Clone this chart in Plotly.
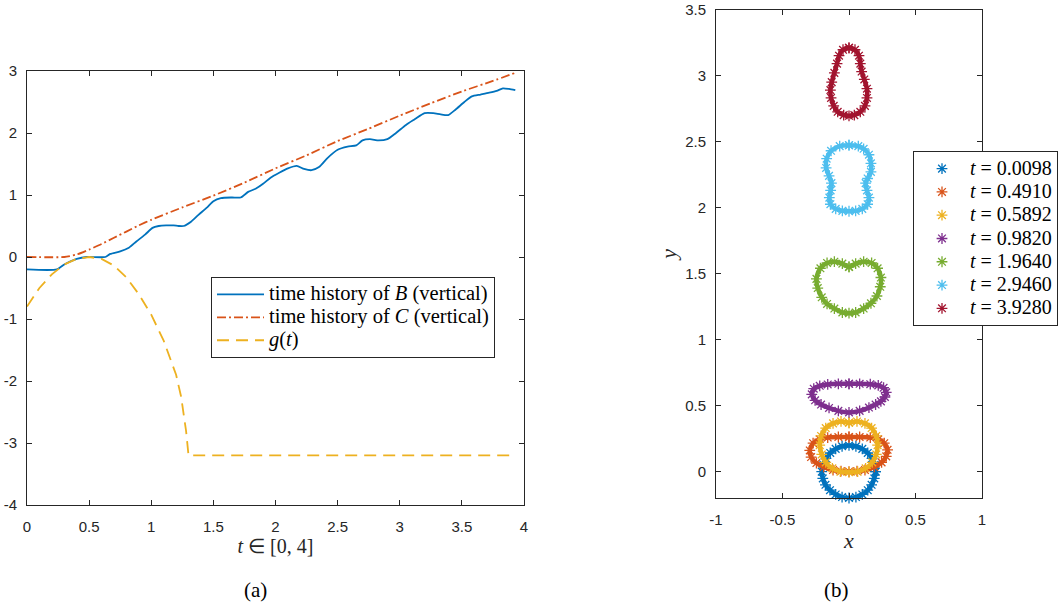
import plotly.graph_objects as go

# ---------------- panel (a) data ----------------
tB = [0, 0.24, 0.30, 0.35, 0.40, 0.48, 0.63, 0.67, 0.75, 0.82,
      0.88, 0.95, 1.01, 1.06, 1.12, 1.18, 1.22, 1.26, 1.32, 1.38,
      1.45, 1.50, 1.56, 1.65, 1.72, 1.78, 1.84, 1.90, 1.96, 2.03,
      2.10, 2.17, 2.23, 2.29, 2.35, 2.42, 2.50, 2.58, 2.65, 2.70,
      2.76, 2.83, 2.90, 2.97, 3.05, 3.12, 3.20, 3.27, 3.33, 3.39,
      3.45, 3.52, 3.58, 3.65, 3.72, 3.78, 3.83, 3.88, 3.93]
vB = [-0.2, -0.2, -0.12, -0.07, -0.03, 0, 0, 0.05, 0.09, 0.15,
      0.25, 0.36, 0.47, 0.5, 0.51, 0.51, 0.5, 0.5, 0.57, 0.68,
      0.8, 0.9, 0.95, 0.96, 0.96, 1.05, 1.1, 1.18, 1.28, 1.36,
      1.43, 1.47, 1.42, 1.40, 1.45, 1.6, 1.73, 1.78, 1.8, 1.88,
      1.9, 1.88, 1.9, 2.0, 2.13, 2.22, 2.32, 2.32, 2.3, 2.29,
      2.38, 2.5, 2.59, 2.62, 2.65, 2.68, 2.72, 2.71, 2.69]

tC = [0, 0.3, 0.4, 0.5, 0.6, 0.7, 0.8, 0.9, 1.0, 1.25, 1.5, 1.75, 2.0,
      2.25, 2.5, 2.75, 3.0, 3.25, 3.5, 3.75, 3.93]
vC = [0, 0, 0.04, 0.12, 0.21, 0.31, 0.41, 0.51, 0.6, 0.8, 0.99, 1.2, 1.43,
      1.64, 1.87, 2.07, 2.28, 2.48, 2.67, 2.84, 2.97]

tG = [0, 0.1, 0.2, 0.3, 0.4, 0.5, 0.6, 0.7, 0.8, 0.9, 1.0, 1.1, 1.2,
      1.24, 1.28, 1.30, 3.93]
vG = [-0.8, -0.5, -0.28, -0.12, -0.03, 0, -0.03, -0.14, -0.33, -0.6, -0.93,
      -1.35, -1.9, -2.25, -2.8, -3.2, -3.2]

xa_ticks = [0, 0.5, 1, 1.5, 2, 2.5, 3, 3.5, 4]
xa_text = ["0", "0.5", "1", "1.5", "2", "2.5", "3", "3.5", "4"]
ya_ticks = [-4, -3, -2, -1, 0, 1, 2, 3]
ya_text = ["-4", "-3", "-2", "-1", "0", "1", "2", "3"]

# ---------------- panel (b) data (contour points) ----------------
times = ["0.0098", "0.4910", "0.5892", "0.9820", "1.9640", "2.9460", "3.9280"]
colors = ["#0072BD", "#D95319", "#EDB120", "#7E2F8E", "#77AC30", "#4DBEEE", "#A2142F"]

x1 = [0.2, 0.193, 0.173, 0.141, 0.1, 0.052, 0, -0.052, -0.1, -0.141, -0.173, -0.193,
      -0.205, -0.197, -0.177, -0.143, -0.1, -0.052, 0, 0.052, 0.1, 0.141, 0.17, 0.19, 0.2]
y1 = [0, 0.052, 0.1, 0.141, 0.172, 0.192, 0.198, 0.192, 0.172, 0.141, 0.1, 0.052,
      0, -0.052, -0.1, -0.141, -0.173, -0.193, -0.2, -0.193, -0.173, -0.141, -0.1, -0.052, 0]

x2 = [0, 0.08, 0.16, 0.22, 0.265, 0.29, 0.28, 0.245, 0.19, 0.12, 0.06, 0,
      -0.06, -0.12, -0.19, -0.245, -0.285, -0.295, -0.27, -0.22, -0.16, -0.08, 0]
y2 = [0.262, 0.262, 0.258, 0.245, 0.215, 0.165, 0.115, 0.07, 0.035, 0.012, 0.003, 0.0,
      0.003, 0.012, 0.035, 0.065, 0.11, 0.16, 0.215, 0.245, 0.258, 0.262, 0.262]

x3 = [0, 0.06, 0.12, 0.17, 0.205, 0.215, 0.205, 0.175, 0.125, 0.065, 0,
      -0.065, -0.125, -0.175, -0.205, -0.22, -0.21, -0.175, -0.12, -0.06, 0]
y3 = [0.37, 0.38, 0.365, 0.33, 0.27, 0.2, 0.13, 0.07, 0.025, 0.0, -0.005,
      0.0, 0.025, 0.07, 0.13, 0.2, 0.27, 0.33, 0.365, 0.38, 0.37]

x4 = [0, 0.08, 0.16, 0.22, 0.26, 0.28, 0.27, 0.24, 0.2, 0.15, 0.08, 0,
      -0.08, -0.15, -0.21, -0.255, -0.28, -0.265, -0.22, -0.16, -0.08, 0]
y4 = [0.665, 0.665, 0.662, 0.653, 0.635, 0.6, 0.565, 0.532, 0.508, 0.485, 0.46, 0.448,
      0.46, 0.482, 0.508, 0.54, 0.585, 0.628, 0.65, 0.66, 0.665, 0.665]

x5 = [0, 0.05, 0.11, 0.17, 0.215, 0.24, 0.235, 0.21, 0.165, 0.11, 0.05, 0,
      -0.05, -0.11, -0.165, -0.205, -0.235, -0.245, -0.215, -0.165, -0.11, -0.05, 0]
y5 = [1.55, 1.575, 1.59, 1.58, 1.54, 1.47, 1.40, 1.33, 1.275, 1.235, 1.205, 1.2,
      1.205, 1.235, 1.27, 1.32, 1.39, 1.46, 1.54, 1.58, 1.59, 1.575, 1.55]

x6 = [0, 0.07, 0.11, 0.15, 0.165, 0.165, 0.14, 0.125, 0.135, 0.15, 0.14, 0.1, 0.05, 0,
      -0.05, -0.1, -0.14, -0.148, -0.138, -0.132, -0.15, -0.172, -0.168, -0.135, -0.07, 0]
y6 = [2.472, 2.465, 2.445, 2.4, 2.335, 2.27, 2.22, 2.185, 2.13, 2.075, 2.025, 1.99, 1.975, 1.972,
      1.975, 1.99, 2.025, 2.075, 2.13, 2.185, 2.24, 2.30, 2.37, 2.43, 2.465, 2.472]

x7 = [0, 0.045, 0.075, 0.085, 0.095, 0.115, 0.135, 0.135, 0.12, 0.085, 0.04, 0,
      -0.04, -0.085, -0.115, -0.135, -0.14, -0.13, -0.11, -0.09, -0.075, -0.045, 0]
y7 = [3.21, 3.195, 3.15, 3.09, 3.03, 2.97, 2.90, 2.83, 2.77, 2.725, 2.70, 2.695,
      2.70, 2.725, 2.77, 2.83, 2.89, 2.95, 3.02, 3.09, 3.15, 3.195, 3.21]

shape_x = [x1, x2, x3, x4, x5, x6, x7]
shape_y = [y1, y2, y3, y4, y5, y6, y7]

xb_ticks = [-1, -0.5, 0, 0.5, 1]
xb_text = ["-1", "-0.5", "0", "0.5", "1"]
yb_ticks = [0, 0.5, 1, 1.5, 2, 2.5, 3, 3.5]
yb_text = ["0", "0.5", "1", "1.5", "2", "2.5", "3", "3.5"]

# ---------------- figure ----------------
SERIF = "Liberation Serif"
SANS = "Liberation Sans"
AX = "#262626"
W, H = 1060, 607

fig = go.Figure()

fig.add_trace(go.Scatter(x=tB, y=vB, mode="lines", line=dict(color="#0072BD", width=1.8, shape="spline", smoothing=0.6),
                         name='<span style="font-size:20.5px">time history of <i>B</i> (vertical)</span>',
                         xaxis="x", yaxis="y", legend="legend"))
fig.add_trace(go.Scatter(x=tC, y=vC, mode="lines", line=dict(color="#D95319", width=1.8, shape="spline", smoothing=0.6, dash="9px,3px,2px,3px"),
                         name='<span style="font-size:20.5px">time history of <i>C</i> (vertical)</span>',
                         xaxis="x", yaxis="y", legend="legend"))
fig.add_trace(go.Scatter(x=tG, y=vG, mode="lines", line=dict(color="#EDB120", width=1.8, dash="12px,7px"),
                         name='<span style="font-size:20.5px"><i>g</i>(<i>t</i>)</span>',
                         xaxis="x", yaxis="y", legend="legend"))

for k in range(len(times)):
    fig.add_trace(go.Scatter(x=shape_x[k], y=shape_y[k], mode="lines",
                             line=dict(color=colors[k], width=4.5, shape="spline", smoothing=0.8),
                             showlegend=False, hoverinfo="skip", cliponaxis=False,
                             xaxis="x2", yaxis="y2"))
    fig.add_trace(go.Scatter(x=shape_x[k], y=shape_y[k], mode="markers",
                             marker=dict(symbol="asterisk-open", size=9, color=colors[k],
                                         line=dict(color=colors[k], width=1.3)),
                             name='<span style="font-size:20px"><i>t</i> = ' + times[k] + '</span>',
                             cliponaxis=False, xaxis="x2", yaxis="y2", legend="legend2"))

axis_common = dict(showline=True, linecolor=AX, linewidth=1, mirror="ticks", ticks="inside",
                   ticklen=5, tickcolor=AX, tickwidth=1, showgrid=False, zeroline=False,
                   automargin=False, ticklabeloverflow="allow",
                   tickfont=dict(family=SANS, size=15, color=AX), tickmode="array")

fig.update_layout(
    width=W, height=H, margin=dict(l=0, r=0, t=0, b=0, autoexpand=False),
    paper_bgcolor="white", plot_bgcolor="white",
    xaxis=dict(domain=[27 / W, 524 / W], range=[0, 4], tickvals=xa_ticks, ticktext=xa_text,
               anchor="y", ticklabelstandoff=8,
               title=dict(text="<i>t</i> ∈ [0, 4]", font=dict(family=SERIF, size=20, color=AX), standoff=4),
               **axis_common),
    yaxis=dict(domain=[1 - 505 / H, 1 - 71 / H], range=[-4, 3], tickvals=ya_ticks, ticktext=ya_text,
               anchor="x", ticklabelstandoff=6, **axis_common),
    xaxis2=dict(domain=[716 / W, 982 / W], range=[-1, 1], tickvals=xb_ticks, ticktext=xb_text,
                anchor="y2", ticklabelstandoff=8,
                title=dict(text="<i>x</i>", font=dict(family=SERIF, size=22, color=AX), standoff=4),
                **axis_common),
    yaxis2=dict(domain=[1 - 498 / H, 1 - 9.5 / H], range=[-0.2, 3.5], tickvals=yb_ticks, ticktext=yb_text,
                anchor="x2", ticklabelstandoff=6,
                title=dict(text="<i>y</i>", font=dict(family=SERIF, size=22, color=AX), standoff=2),
                **axis_common),
    legend=dict(x=211 / W, y=1 - 277 / H, xanchor="left", yanchor="top",
                bgcolor="white", bordercolor=AX, borderwidth=1, itemwidth=47,
                font=dict(family=SERIF, size=15.3, color="black"), tracegroupgap=0),
    legend2=dict(x=913 / W, y=1 - 151 / H, xanchor="left", yanchor="top",
                 bgcolor="white", bordercolor=AX, borderwidth=1, itemwidth=46,
                 font=dict(family=SERIF, size=15.6, color="black"), tracegroupgap=0),
    annotations=[
        dict(text="(a)", x=255 / W, y=1 - 590 / H, xref="paper", yref="paper", showarrow=False,
             xanchor="center", yanchor="middle", font=dict(family=SERIF, size=21, color="black")),
        dict(text="(b)", x=836 / W, y=1 - 590 / H, xref="paper", yref="paper", showarrow=False,
             xanchor="center", yanchor="middle", font=dict(family=SERIF, size=21, color="black")),
    ],
)

fig.write_html("out.html")
